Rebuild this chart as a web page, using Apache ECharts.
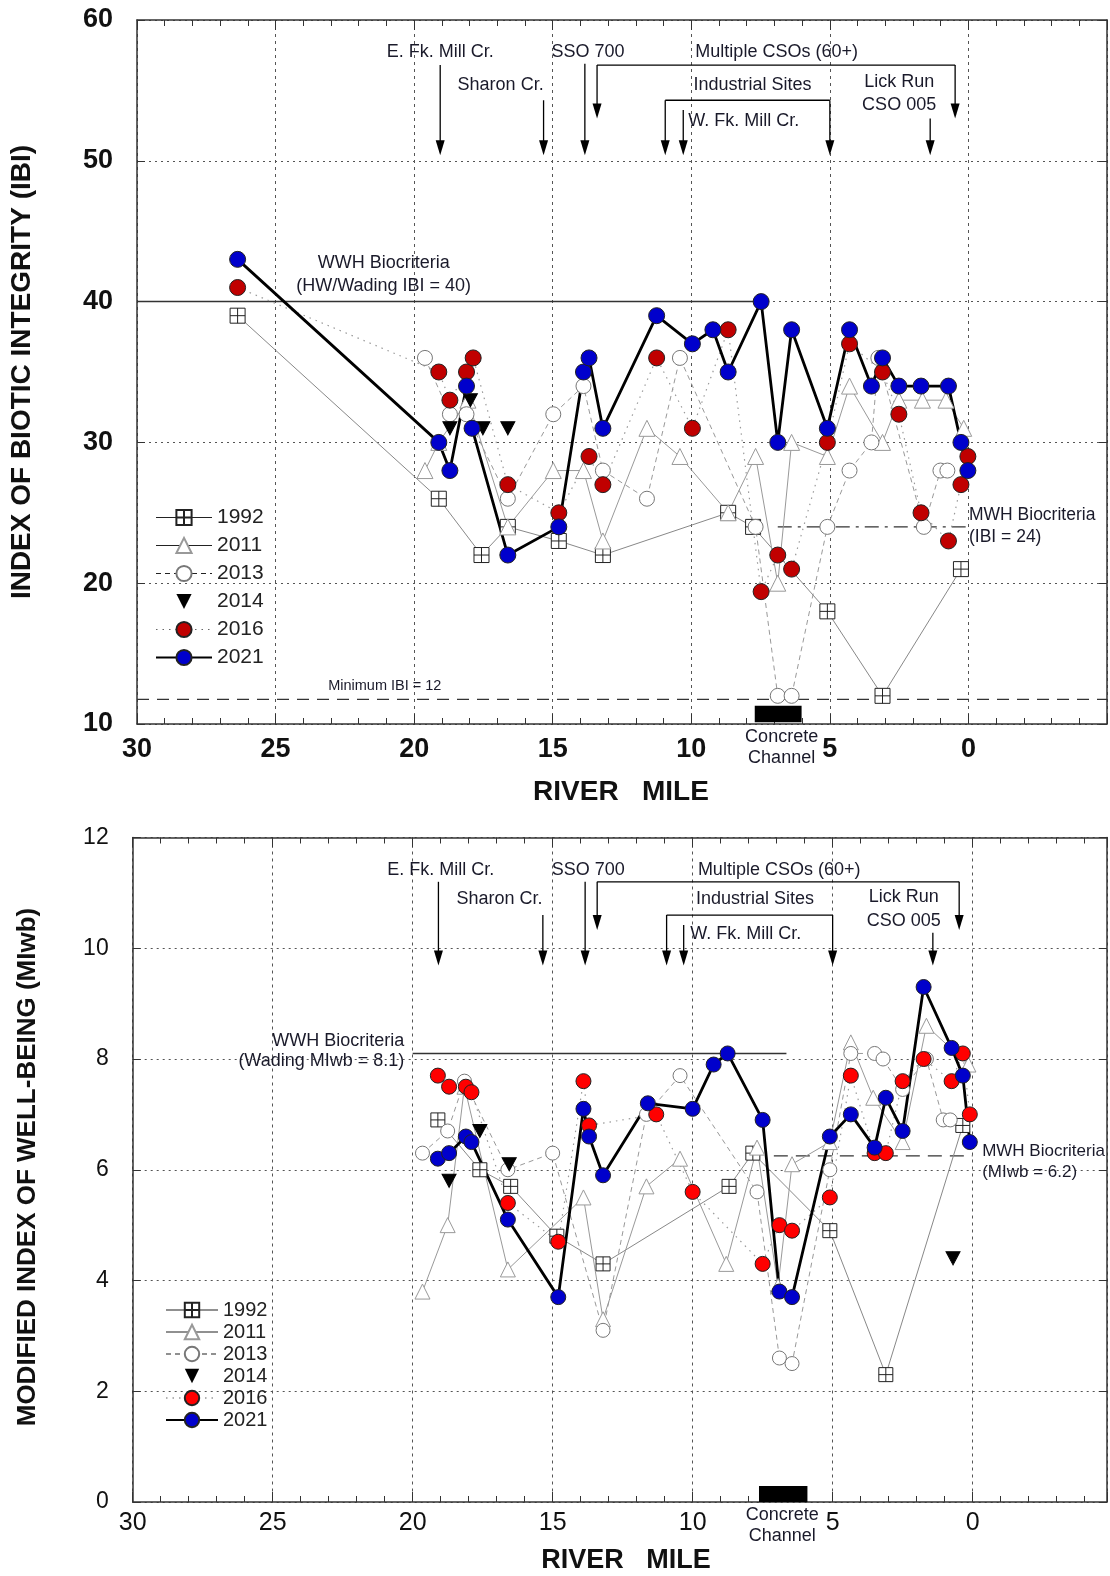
<!DOCTYPE html>
<html>
<head>
<meta charset="utf-8">
<script src="https://cdn.jsdelivr.net/npm/echarts@6/dist/echarts.min.js"></script>
<style>
  html, body { margin: 0; padding: 0; background: #fff; }
  #chart { width: 1110px; height: 1576px; }
</style>
</head>
<body>
<div id="chart"></div>
<script>
// ---- data: [river mile, value] ----
const years = ['1992', '2011', '2013', '2014', '2016', '2021'];

// IBI (top panel)
const ibi1992 = [[26.37,39],[19.11,26],[17.57,22],[16.62,24],[14.78,23],[13.19,22],[8.67,25],[7.77,24],[5.09,18],[3.1,12],[0.27,21]];
const ibi2011 = [[19.61,28],[19.11,30],[18.06,33],[16.62,24],[14.98,28],[13.89,28],[13.19,23],[11.6,31],[10.41,29],[8.67,25],[7.68,29],[6.88,20],[6.38,30],[5.09,29],[4.29,34],[3.1,30],[2.51,33],[1.66,33],[0.81,33],[0.17,31]];
const ibi2013 = [[19.61,36],[18.71,32],[18.11,32],[16.62,26],[14.98,32],[13.89,34],[13.19,28],[11.6,26],[10.41,36],[7.68,24],[6.88,12],[6.38,12],[5.09,24],[4.29,28],[3.5,30],[3.25,36],[1.61,24],[1.01,28],[0.76,28]];
const ibi2014 = [[18.71,31],[17.97,33],[17.52,31],[16.62,31]];
const ibi2016 = [[26.37,41],[19.11,35],[18.71,33],[18.11,35],[17.87,36],[16.62,27],[14.78,25],[13.69,29],[13.19,27],[11.25,36],[9.96,31],[8.67,38],[7.48,19.4],[6.88,22],[6.38,21],[5.09,30],[4.29,37],[3.1,35],[2.51,32],[1.71,25],[0.72,23],[0.27,27],[0.02,29]];
const ibi2021 = [[26.37,43],[19.11,30],[18.71,28],[18.11,34],[17.91,31],[16.62,22],[14.78,24],[13.89,35],[13.69,36],[13.19,31],[11.25,39],[9.96,37],[9.22,38],[8.67,35],[7.48,40],[6.88,30],[6.38,38],[5.09,31],[4.29,38],[3.5,34],[3.1,36],[2.51,34],[1.71,34],[0.72,34],[0.27,30],[0.02,28]];

// MIwb (bottom panel)
const mi1992 = [[19.1,6.9],[17.6,6.0],[16.5,5.7],[14.85,4.8],[13.2,4.3],[8.7,5.7],[7.85,6.3],[5.1,4.9],[3.1,2.3],[0.35,6.8]];
const mi2011 = [[19.65,3.8],[18.75,5.0],[18.15,7.5],[16.6,4.2],[13.9,5.5],[13.2,3.3],[11.65,5.7],[10.45,6.2],[8.8,4.3],[7.7,6.4],[6.95,3.9],[6.45,6.1],[5.1,6.5],[4.35,8.3],[3.55,7.3],[2.5,6.5],[1.65,8.6],[0.15,7.9]];
const mi2013 = [[19.65,6.3],[18.75,6.7],[18.15,7.6],[16.6,6.0],[15.0,6.3],[13.2,3.1],[11.65,7.0],[10.45,7.7],[7.7,5.6],[6.9,2.6],[6.45,2.5],[5.1,6.0],[4.35,8.1],[3.5,8.1],[3.2,8.0],[2.5,7.45],[1.65,8.0],[1.05,6.9],[0.8,6.9]];
const mi2014 = [[18.7,5.8],[17.6,6.7],[16.55,6.1],[0.7,4.4]];
const mi2016 = [[19.1,7.7],[18.7,7.5],[18.1,7.5],[17.9,7.4],[16.6,5.4],[14.8,4.7],[13.9,7.6],[13.7,6.8],[11.3,7.0],[10.0,5.6],[7.5,4.3],[6.9,5.0],[6.45,4.9],[5.1,5.5],[4.35,7.7],[3.5,6.3],[3.1,6.3],[2.5,7.6],[1.75,8.0],[0.75,7.6],[0.35,8.1],[0.1,7.0]];
const mi2021 = [[19.1,6.2],[18.7,6.3],[18.1,6.6],[17.9,6.5],[16.6,5.1],[14.8,3.7],[13.9,7.1],[13.7,6.6],[13.2,5.9],[11.6,7.2],[10.0,7.1],[9.25,7.9],[8.75,8.1],[7.5,6.9],[6.9,3.8],[6.45,3.7],[5.1,6.6],[4.35,7.0],[3.5,6.4],[3.1,7.3],[2.5,6.7],[1.75,9.3],[0.75,8.2],[0.35,7.7],[0.1,6.5]];

// criteria lines
const ibiWwh = [[30, 40], [7.48, 40]];
const ibiMwh = [[6.88, 24], [0.1, 24]];
const ibiMin = [[30, 11.75], [-5, 11.75]];
const miWwh = [[20, 8.1], [6.65, 8.1]];
const miMwh = [[7.1, 6.25], [0, 6.25]];
const channelIbi = [[7.71, 10.12], [6.02, 11.3]];
const channelMi = [[7.63, 0], [5.9, 0.29]];

// sources: [mile, from, to]
const ibiArrows = [[19.06,56.8,50.4],[15.33,54.3,50.4],[13.84,56.9,50.4],[13.4,56.8,53.0],[0.48,56.8,53.0],[10.94,54.3,50.4],[5.0,54.3,50.4],[10.29,53.6,50.4],[1.38,53.0,50.4]];
const ibiBrackets = [[13.4,0.48,56.8],[10.94,5.0,54.3]];
const ibiNotes = [['E. Fk. Mill Cr.',19.06,57.7],['Sharon Cr.',16.88,55.35],['SSO 700',13.73,57.7],['Multiple CSOs (60+)',6.92,57.7],['Industrial Sites',7.79,55.35],['W. Fk. Mill Cr.',8.11,52.8],['Lick Run',2.5,55.57],['CSO 005',2.5,53.99]];
const miArrows = [[19.08,11.2,9.69],[15.35,10.6,9.69],[13.84,11.2,9.69],[13.41,11.2,10.33],[0.48,11.2,10.33],[10.93,10.6,9.69],[5.0,10.6,9.69],[10.32,10.42,9.69],[1.42,10.28,9.69]];
const miBrackets = [[13.41,0.48,11.2],[10.93,5.0,10.6]];
const miNotes = [['E. Fk. Mill Cr.',19.0,11.42],['Sharon Cr.',16.9,10.88],['SSO 700',13.73,11.42],['Multiple CSOs (60+)',6.91,11.42],['Industrial Sites',7.77,10.88],['W. Fk. Mill Cr.',8.1,10.26],['Lick Run',2.46,10.93],['CSO 005',2.46,10.49]];

const FONT = "'Liberation Sans', Arial, sans-serif";
const SQ = 'path://M0,0H10V10H0Z M5,0V10 M0,5H10';

const chart = echarts.init(document.getElementById('chart'));

function xAxes(grid, min, bold, size, margin) {
  const base = {
    gridIndex: grid, type: 'value', inverse: true, min: min, max: 30,
    axisLine: { show: true, onZero: false, lineStyle: { color: '#333', width: 1.5 } },
    axisTick: { show: true, inside: true, length: 10, lineStyle: { color: '#333' } },
    minorTick: { show: true, splitNumber: 5, length: 6, lineStyle: { color: '#333' } }
  };
  if (min === -5) base.interval = 5; else base.splitNumber = 7;
  return [
    Object.assign({}, base, {
      position: 'bottom',
      axisLabel: { fontSize: size, fontWeight: bold ? 'bold' : 'normal', color: '#111', fontFamily: FONT, margin: margin,
        formatter: v => (v >= 0 && v % 5 === 0) ? String(v) : '' },
      splitLine: { show: true, lineStyle: { type: [3, 4], color: '#555' } }
    }),
    Object.assign({}, base, { position: 'top', axisLabel: { show: false }, splitLine: { show: false } })
  ];
}

function yAxes(grid, min, max, step, bold, size) {
  const base = {
    gridIndex: grid, type: 'value', min: min, max: max, interval: step,
    axisLine: { show: true, onZero: false, lineStyle: { color: '#333', width: 1.5 } },
    axisTick: { show: true, inside: true, length: 8, lineStyle: { color: '#333' } }
  };
  return [
    Object.assign({}, base, {
      position: 'left',
      axisLabel: { fontSize: size, fontWeight: bold ? 'bold' : 'normal', color: '#111', fontFamily: FONT, margin: 24 },
      splitLine: { show: true, lineStyle: { type: [2, 4], color: '#555' } }
    }),
    Object.assign({}, base, { position: 'right', axisLabel: { show: false }, splitLine: { show: false } })
  ];
}

function yearSeries(prefix, ai, sets, redFill, dotColor, size) {
  const s = [];
  const item = (fill, border) => ({ color: fill, borderColor: border, borderWidth: 1 });
  s.push({ name: prefix + ' 1992', type: 'line', xAxisIndex: ai, yAxisIndex: ai, data: sets[0],
    symbol: SQ, symbolSize: size, itemStyle: item('#fff', '#222'), lineStyle: { color: '#888', width: 1 } });
  s.push({ name: prefix + ' 2011', type: 'line', xAxisIndex: ai, yAxisIndex: ai, data: sets[1],
    symbol: 'triangle', symbolSize: size + 1, itemStyle: item('#fff', '#999'), lineStyle: { color: '#999', width: 1 } });
  s.push({ name: prefix + ' 2013', type: 'line', xAxisIndex: ai, yAxisIndex: ai, data: sets[2],
    symbol: 'circle', symbolSize: size, itemStyle: item('#fff', '#777'), lineStyle: { color: '#999', width: 1, type: [5, 4] } });
  s.push({ name: prefix + ' dots', type: 'scatter', xAxisIndex: ai, yAxisIndex: ai, data: sets[2], silent: true,
    symbol: 'circle', symbolSize: 2.5, itemStyle: { color: dotColor } });
  s.push({ name: prefix + ' 2014', type: 'line', xAxisIndex: ai, yAxisIndex: ai, data: sets[3],
    symbol: 'triangle', symbolRotate: 180, symbolSize: [14, 13], itemStyle: { color: '#000', borderColor: '#000' },
    lineStyle: { opacity: 0, width: 0 } });
  s.push({ name: prefix + ' 2016', type: 'line', xAxisIndex: ai, yAxisIndex: ai, data: sets[4],
    symbol: 'circle', symbolSize: size + 1, itemStyle: item(redFill, '#222'), lineStyle: { color: '#999', width: 1.2, type: [1.5, 5] } });
  s.push({ name: prefix + ' 2021', type: 'line', xAxisIndex: ai, yAxisIndex: ai, data: sets[5],
    symbol: 'circle', symbolSize: size + 1, itemStyle: item('#0000cc', '#222'), lineStyle: { color: '#000', width: 2.8 } });
  return s;
}

function refLine(ai, data, type, width, extra) {
  return Object.assign({ type: 'line', xAxisIndex: ai, yAxisIndex: ai, data: data, symbol: 'none', silent: true,
    lineStyle: { color: '#333', width: width, type: type }, z: 1 }, extra || {});
}

function legend(prefix, left, top, iw, ih, gap, fs) {
  const dark = { color: '#222' };
  return {
    data: years.map(y => {
      const d = { name: prefix + ' ' + y };
      if (y === '1992' || y === '2011') d.lineStyle = { color: '#222', width: 1.2 };
      if (y === '2013') d.lineStyle = { color: '#222', width: 1.2, type: [5, 4] };
      if (y === '2016') d.lineStyle = { color: '#666', width: 1.2, type: [1.5, 5] };
      return d;
    }),
    orient: 'vertical', left: left, top: top,
    itemWidth: iw, itemHeight: ih, itemGap: gap, selectedMode: false,
    formatter: n => n.split(' ')[1],
    textStyle: { fontSize: fs, color: '#222', fontFamily: FONT }
  };
}

const series = [
  refLine(0, ibiWwh, 'solid', 1.5),
  refLine(0, ibiMwh, [14, 6, 3, 6], 1.3),
  refLine(0, ibiMin, [12, 8], 1.3, {
    markArea: { silent: true, itemStyle: { color: '#000', opacity: 1 },
      data: [[{ coord: channelIbi[0] }, { coord: channelIbi[1] }]] }
  }),
  refLine(2, miWwh, 'solid', 1.5),
  refLine(2, miMwh, [14, 8], 1.3, {
    markArea: { silent: true, itemStyle: { color: '#000', opacity: 1 },
      data: [[{ coord: channelMi[0] }, { coord: channelMi[1] }]] }
  })
].concat(
  yearSeries('IBI', 0, [ibi1992, ibi2011, ibi2013, ibi2014, ibi2016, ibi2021], '#c00000', '#000', 15),
  yearSeries('MIwb', 2, [mi1992, mi2011, mi2013, mi2014, mi2016, mi2021], '#ff0000', '#ff0000', 14)
);

chart.setOption({
  animation: false,
  backgroundColor: '#fff',
  textStyle: { fontFamily: FONT },
  grid: [
    { left: 137, top: 20, width: 971, height: 704 },
    { left: 132.7, top: 837.5, width: 974.4, height: 664.5 }
  ],
  xAxis: xAxes(0, -5, true, 27, 12).concat(xAxes(1, -4.8, false, 25, 9)),
  yAxis: yAxes(0, 10, 60, 10, true, 27).concat(yAxes(1, 0, 12, 2, false, 23)),
  legend: [legend('IBI', 150, 502, 56, 19, 7, 21), legend('MIwb', 160, 1295, 52, 18, 2, 20)],
  series: series
});

// annotations placed through the axes
function annotate() {
  const g = [];
  const P = (ai, x, y) => chart.convertToPixel({ xAxisIndex: ai, yAxisIndex: ai }, [x, y]);
  const text = (x, y, t, opt) => g.push({ type: 'text', x: x, y: y, silent: true, rotation: opt.rot || 0,
    style: { text: t, fontSize: opt.size || 18, fontWeight: opt.bold ? 'bold' : 'normal', fontFamily: FONT,
      fill: opt.color || '#1a1a2a', align: opt.align || 'center', verticalAlign: 'middle' } });

  function sources(ai, arrows, brackets, notes) {
    arrows.forEach(a => {
      const p0 = P(ai, a[0], a[1]), p1 = P(ai, a[0], a[2]);
      g.push({ type: 'line', silent: true, shape: { x1: p0[0], y1: p0[1], x2: p1[0], y2: p1[1] - 12 },
        style: { stroke: '#000', lineWidth: 1.3 } });
      g.push({ type: 'polygon', silent: true,
        shape: { points: [[p1[0] - 4.5, p1[1] - 15], [p1[0] + 4.5, p1[1] - 15], [p1[0], p1[1]]] },
        style: { fill: '#000' } });
    });
    brackets.forEach(b => {
      const p0 = P(ai, b[0], b[2]), p1 = P(ai, b[1], b[2]);
      g.push({ type: 'line', silent: true, shape: { x1: p0[0], y1: p0[1], x2: p1[0], y2: p1[1] },
        style: { stroke: '#000', lineWidth: 1.3 } });
    });
    notes.forEach(n => { const p = P(ai, n[1], n[2]); text(p[0], p[1], n[0], {}); });
  }
  sources(0, ibiArrows, ibiBrackets, ibiNotes);
  sources(2, miArrows, miBrackets, miNotes);

  // criteria labels
  let p;
  p = P(0, 21.1, 42.71); text(p[0], p[1], 'WWH Biocriteria', {});
  p = P(0, 21.1, 41.14); text(p[0], p[1], '(HW/Wading IBI = 40)', {});
  p = P(0, -0.02, 24.86); text(p[0], p[1], 'MWH Biocriteria', { align: 'left', size: 17.5 });
  p = P(0, -0.02, 23.29); text(p[0], p[1], '(IBI = 24)', { align: 'left', size: 17.5 });
  p = P(0, 21.06, 12.72); text(p[0], p[1], 'Minimum IBI = 12', { size: 14.5 });
  p = P(2, 20.3, 8.33); text(p[0], p[1], 'WWH Biocriteria', { align: 'right' });
  p = P(2, 20.3, 7.97); text(p[0], p[1], '(Wading MIwb = 8.1)', { align: 'right' });
  p = P(2, -0.34, 6.34); text(p[0], p[1], 'MWH Biocriteria', { align: 'left', size: 17 });
  p = P(2, -0.34, 5.95); text(p[0], p[1], '(MIwb = 6.2)', { align: 'left', size: 17 });

  // concrete channel captions under the axes
  p = P(0, 6.74, 10); text(p[0], 737, 'Concrete', {}); text(p[0], 758, 'Channel', {});
  p = P(2, 6.8, 0); text(p[0], 1515, 'Concrete', {}); text(p[0], 1536, 'Channel', {});

  // axis titles
  text(621, 792, 'RIVER   MILE', { size: 28, bold: true, color: '#111' });
  text(626, 1561, 'RIVER   MILE', { size: 27, bold: true, color: '#111' });
  text(22, 372, 'INDEX OF BIOTIC INTEGRITY (IBI)', { size: 28, bold: true, color: '#111', rot: Math.PI / 2 });
  text(28, 1167, 'MODIFIED INDEX OF WELL-BEING (MIwb)', { size: 26, bold: true, color: '#111', rot: Math.PI / 2 });

  chart.setOption({ graphic: g });
}
annotate();
</script>
</body>
</html>
